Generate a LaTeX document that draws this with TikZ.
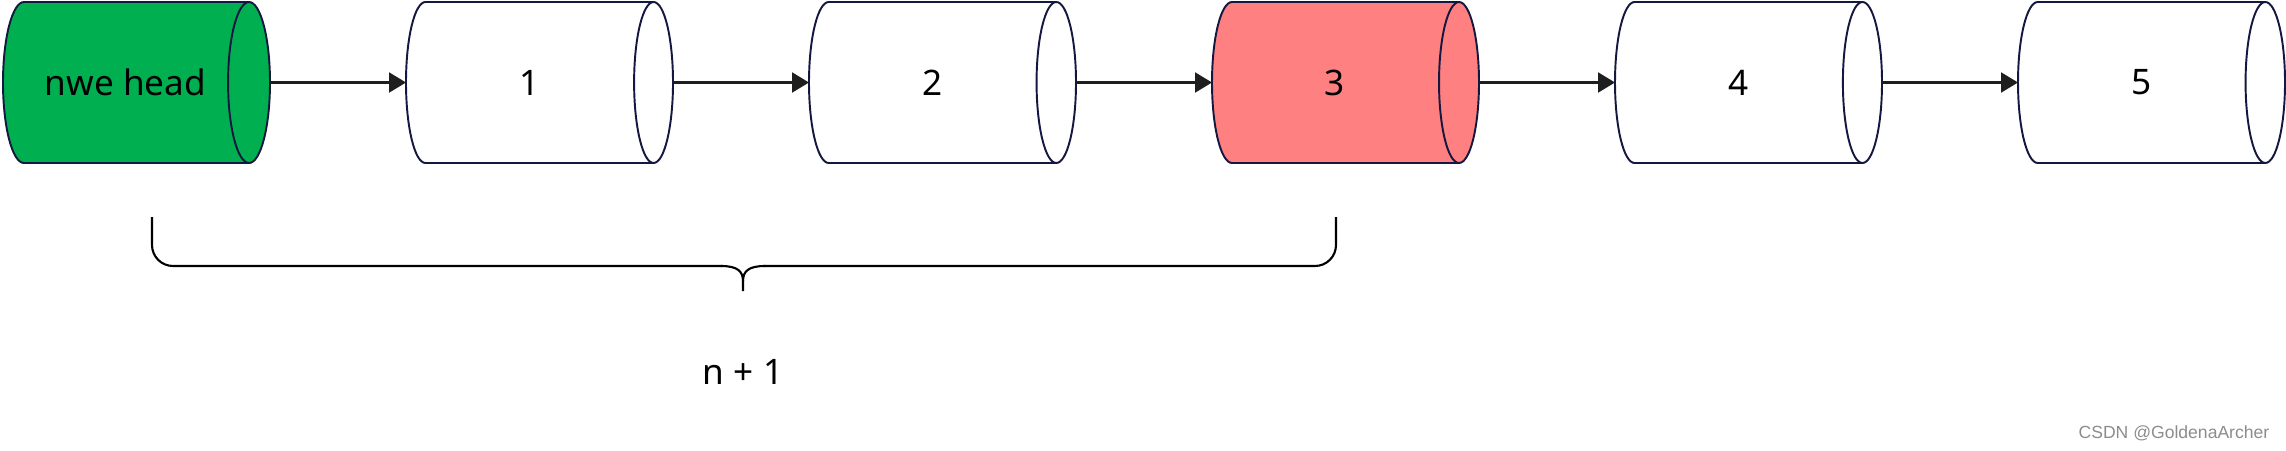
\documentclass[tikz,border=0pt]{standalone}
\usepackage{fontspec}
\setmainfont{Noto Sans}
\newfontfamily\markfont{Liberation Sans}
\usetikzlibrary{shapes.geometric,arrows.meta,positioning}
\definecolor{rimblue}{RGB}{20,24,64}
\definecolor{headgreen}{RGB}{0,176,80}
\definecolor{hitred}{RGB}{255,128,128}
\definecolor{arrowgray}{RGB}{30,30,30}
\tikzset{
  cell/.style={cylinder, shape border rotate=0, aspect=1.55, draw=rimblue, line width=0.55pt,
    minimum width=1.61cm, minimum height=2.67cm, inner sep=0pt, outer sep=0pt,
    cylinder uses custom fill, cylinder body fill=#1, cylinder end fill=#1,
    font=\fontsize{10}{12}\selectfont},
  cell/.default=white,
  link/.style={draw=arrowgray, line width=0.6pt, -{Triangle[length=1.7mm, width=2mm]}},
  brace/.style={draw=black, line width=0.6pt},
}
\begin{document}
\begin{tikzpicture}[node distance=1.36cm]
    \useasboundingbox (0,0) rectangle (22.86,-4.5);
    % list cells
    \node[cell=headgreen, anchor=west] (head) at (0.03,-0.825) {nwe head};
    \node[cell, right=of head] (n1) {1};
    \node[cell, right=of n1] (n2) {2};
    \node[cell=hitred, right=of n2] (n3) {3};
    \node[cell, right=of n3] (n4) {4};
    \node[cell, right=of n4] (n5) {5};
    %
    \draw[link] (head) -- (n1);
    \draw[link] (n1) -- (n2);
    \draw[link] (n2) -- (n3);
    \draw[link] (n3) -- (n4);
    \draw[link] (n4) -- (n5);
    % brace under head ... 3
    \coordinate (bl) at (1.52,-2.17);
    \coordinate (br) at (13.36,-2.17);
    \coordinate (tip) at (7.43,-2.91);
    \draw[brace, rounded corners=2.1mm] (bl) |- (7.22,-2.66);
    \draw[brace, rounded corners=2.1mm] (br) |- (7.64,-2.66);
    \draw[brace] (7.21,-2.66) .. controls (7.37,-2.66) and (7.43,-2.71) .. (7.43,-2.81) -- (tip);
    \draw[brace] (7.65,-2.66) .. controls (7.49,-2.66) and (7.43,-2.71) .. (7.43,-2.81);
    \node[font=\fontsize{10}{12}\selectfont] (len) at (7.43,-3.72) {n + 1};
    %
    \node[font=\markfont\fontsize{5}{6}\selectfont, text=black!45, anchor=east, inner sep=0pt] (mark) at (22.70,-4.33) {CSDN @GoldenaArcher};
\end{tikzpicture}
\end{document}
